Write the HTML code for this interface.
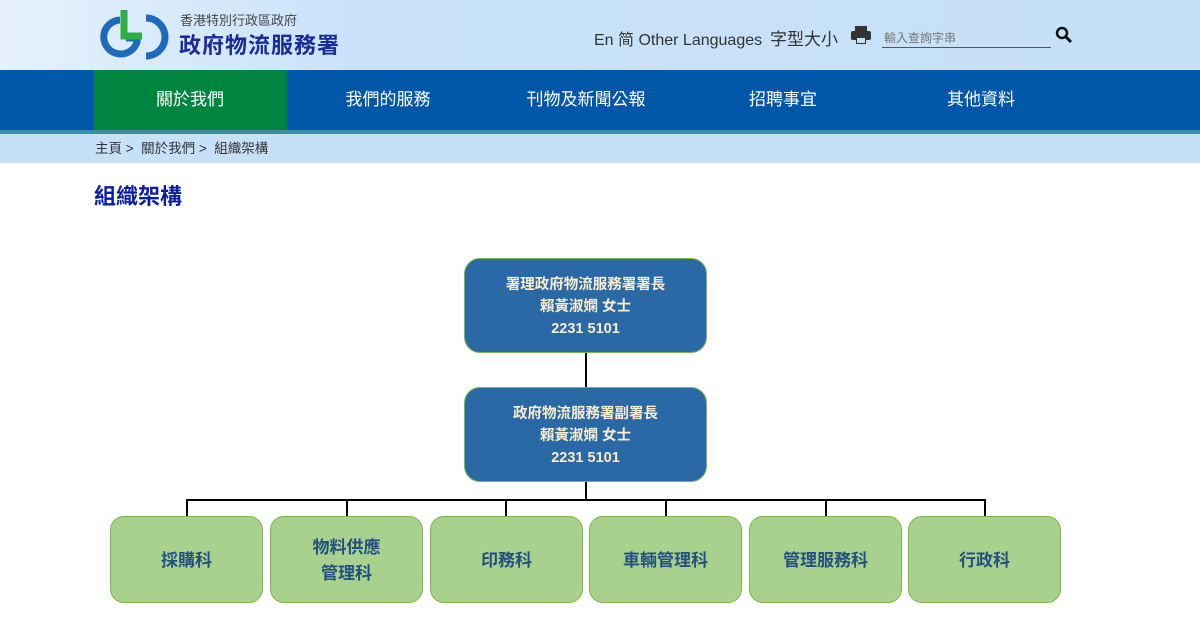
<!DOCTYPE html>
<html><head><meta charset="utf-8"><style>
*{margin:0;padding:0;box-sizing:border-box}
body{width:1200px;height:617px;background:#fff;font-family:"Liberation Sans","Noto Sans CJK TC",sans-serif;position:relative;overflow:hidden}
.hdr{position:absolute;left:0;top:0;width:1200px;height:70px;background:linear-gradient(90deg,#e6f1fc 0%,#c9e2f9 30%,#c6e0f8 100%)}
.nav{position:absolute;left:0;top:70px;width:1200px;height:60px;background:#0257a8}
.navb{position:absolute;left:0;top:130px;width:1200px;height:4px;background:#3a8fa0}
.act{position:absolute;left:94px;top:70px;width:193px;height:60px;background:#008540}
.ni{position:absolute;top:70px;height:60px;line-height:60px;color:#fff;font-size:17px;transform:translateX(-50%)}
.bc{position:absolute;left:0;top:134px;width:1200px;height:29px;background:#c6e0f8;font-size:13.5px;color:#333;line-height:30px;padding-left:95px}
.t{position:absolute;white-space:nowrap}
.b1{position:absolute;left:464px;width:243px;height:95px;background:#2a69a6;border:1.5px solid #7ab648;border-radius:16px;color:#f8eccc;font-weight:bold;font-size:14.5px;text-align:center;line-height:22px;padding-top:15px}
.g{position:absolute;top:516px;width:153px;height:87px;background:#a9d18e;border:1px solid #7ab648;border-radius:14px;color:#24507e;font-weight:bold;font-size:17px;display:flex;align-items:center;justify-content:center;text-align:center;line-height:26px;padding-top:3px}
.l{position:absolute;background:#000}
</style></head><body>
<div class="hdr"></div>
<svg style="position:absolute;left:98px;top:8px" width="80" height="56" viewBox="0 0 80 56">
<path d="M22 12 A17 17 0 1 0 39 34 L39 30 L28 30" fill="none" stroke="#1e6bbd" stroke-width="7"/>
<path d="M26 2 L26 28 L44 28" fill="none" stroke="#2eb040" stroke-width="7"/>
<path d="M48 10 A18 18 0 1 1 48 48" fill="none" stroke="#1e6bbd" stroke-width="7"/>
</svg>
<div class="t" style="left:180px;top:10px;font-size:13px;color:#444">香港特別行政區政府</div>
<div class="t" style="left:179px;top:28px;font-size:22px;color:#1a2b9c;font-weight:bold;letter-spacing:1px">政府物流服務署</div>
<div class="t" style="left:594px;top:26px;font-size:16px;color:#333">En 简 Other Languages</div>
<div class="t" style="left:770px;top:25px;font-size:17px;color:#333">字型大小</div>
<svg style="position:absolute;left:851px;top:26px" width="20" height="18" viewBox="0 0 20 18"><rect x="4" y="0" width="12" height="5" fill="#333"/><rect x="0" y="5" width="20" height="9" rx="2" fill="#333"/><rect x="5" y="11" width="10" height="7" fill="#333"/><rect x="6" y="12" width="8" height="5" fill="#c6e0f8"/></svg>
<div class="t" style="left:884px;top:29px;font-size:12px;color:#777">輸入查詢字串</div>
<div style="position:absolute;left:882px;top:47px;width:169px;height:1px;background:#555"></div>
<svg style="position:absolute;left:1055px;top:26px" width="18" height="18" viewBox="0 0 18 18"><circle cx="7" cy="7" r="5" fill="none" stroke="#111" stroke-width="2.5"/><line x1="11" y1="11" x2="16" y2="16" stroke="#111" stroke-width="3"/></svg>
<div class="nav"></div><div class="act"></div><div class="navb"></div>
<div class="ni" style="left:190px">關於我們</div>
<div class="ni" style="left:388px">我們的服務</div>
<div class="ni" style="left:586px">刊物及新聞公報</div>
<div class="ni" style="left:783px">招聘事宜</div>
<div class="ni" style="left:981px">其他資料</div>
<div class="bc">主頁 &gt;&nbsp; 關於我們 &gt;&nbsp; 組織架構</div>
<div class="t" style="left:94px;top:179px;font-size:22px;font-weight:bold;color:#0a1fa0">組織架構</div>
<div class="l" style="left:585px;top:353px;width:1.5px;height:34px"></div>
<div class="l" style="left:585px;top:482px;width:1.5px;height:18px"></div>
<div class="l" style="left:186px;top:499px;width:800px;height:1.5px"></div>
<div class="l" style="left:186px;top:499px;width:1.5px;height:17px"></div>
<div class="l" style="left:346px;top:499px;width:1.5px;height:17px"></div>
<div class="l" style="left:505px;top:499px;width:1.5px;height:17px"></div>
<div class="l" style="left:665px;top:499px;width:1.5px;height:17px"></div>
<div class="l" style="left:825px;top:499px;width:1.5px;height:17px"></div>
<div class="l" style="left:984px;top:499px;width:1.5px;height:17px"></div>
<div class="b1" style="top:258px">署理政府物流服務署署長<br>賴黃淑嫻 女士<br>2231 5101</div>
<div class="b1" style="top:387px">政府物流服務署副署長<br>賴黃淑嫻 女士<br>2231 5101</div>
<div class="g" style="left:110px">採購科</div>
<div class="g" style="left:270px">物料供應<br>管理科</div>
<div class="g" style="left:430px">印務科</div>
<div class="g" style="left:589px">車輛管理科</div>
<div class="g" style="left:749px">管理服務科</div>
<div class="g" style="left:908px">行政科</div>
</body></html>
